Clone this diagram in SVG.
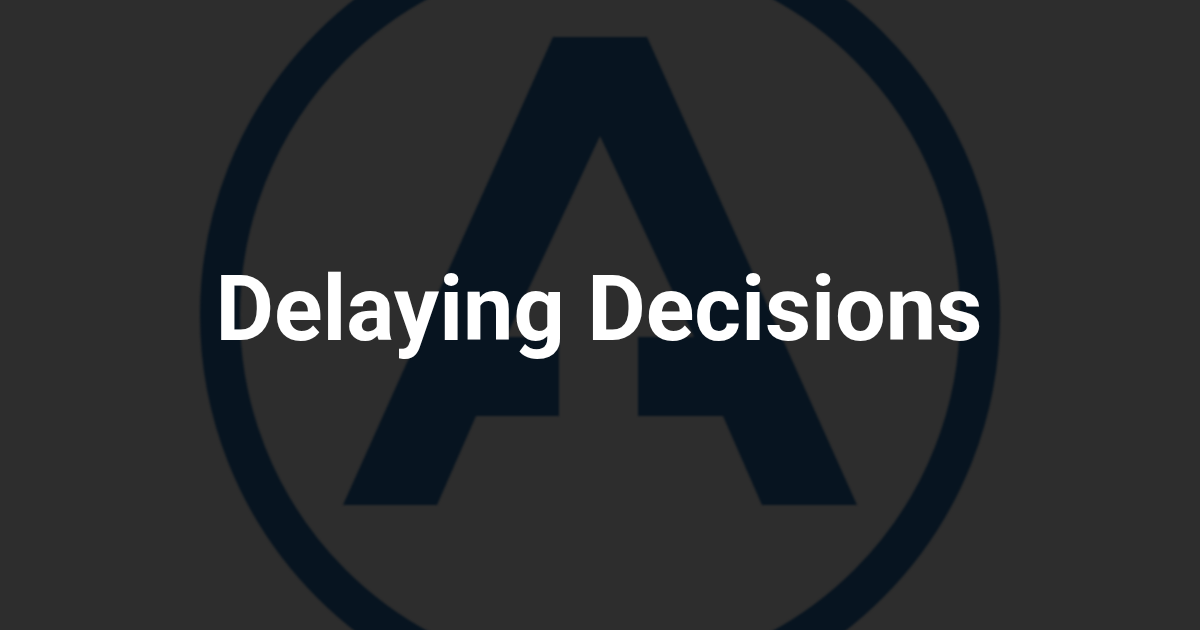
<svg xmlns="http://www.w3.org/2000/svg" width="1200" height="630" viewBox="0 0 1200 630">
<defs><filter id="b" x="-5%" y="-5%" width="110%" height="110%" color-interpolation-filters="sRGB"><feGaussianBlur stdDeviation="1"/></filter></defs>
<style>.t{font-family:Roboto,"Liberation Sans",sans-serif;font-weight:700;font-size:90px;fill:#fff}</style>
<rect width="1200" height="630" fill="#2d2d2d"/>
<g id="logo" filter="url(#b)">
<circle cx="600" cy="315" r="380" fill="none" stroke="#071420" stroke-width="40"/>
<path fill="#071420" d="M553 37H647L857 505H762L723 416H638V337H694L600 136L506 337H559V416H476L437 505H343Z"/>
</g>
<text id="title" class="t" x="599" y="340" text-anchor="middle">Delaying Decisions</text>
</svg>
